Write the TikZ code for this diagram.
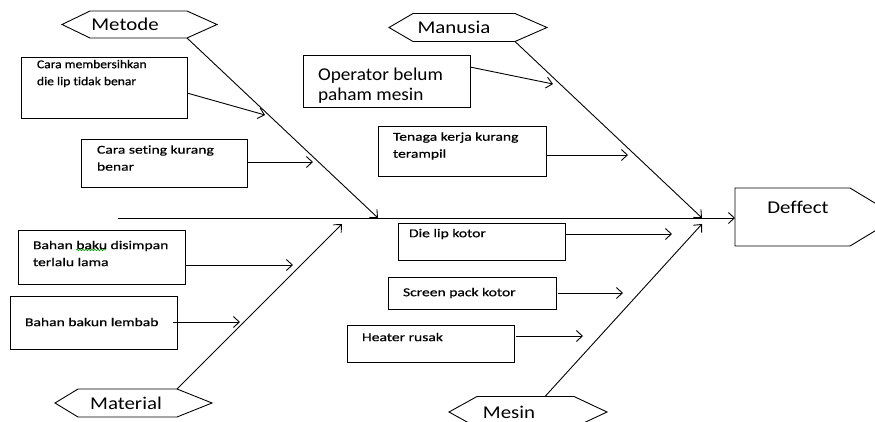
\documentclass[tikz,border=0pt]{standalone}
\usepackage{fontspec}
\setmainfont{Carlito}[Ligatures=NoCommon]
\newfontfamily\smallf{Carlito}[FakeStretch=1.30,FakeBold=0.6,Ligatures=NoCommon]
\newfontfamily\smallnarrowf{Carlito}[FakeStretch=1.13,FakeBold=0.6,Ligatures=NoCommon]
\newfontfamily\catf{Carlito}[FakeStretch=1.16,Ligatures=NoCommon]
\newfontfamily\opf{Carlito}[FakeStretch=1.07,Ligatures=NoCommon]
\usetikzlibrary{arrows.meta,decorations.pathmorphing}
\newcommand\fishhex[6]{\draw ([shift={(#2,0)}]#1.center) -- ([shift={(#3,-#6)}]#1.center) -- ([shift={(#4,-#6)}]#1.center) -- ([shift={(#5,0)}]#1.center) -- ([shift={(#4,#6)}]#1.center) -- ([shift={(#3,#6)}]#1.center) -- cycle;}
\begin{document}
\begin{tikzpicture}[x=1pt,y=-1pt,
  line width=0.9pt,
  every node/.style={inner sep=0pt, outer sep=0pt},
  box/.style={draw, rectangle, anchor=north west, line width=0.9pt},
  txt/.style={anchor=west, align=left, font=\smallf\fontsize{12}{17}\selectfont},
  cat/.style={font=\catf\fontsize{18}{20}\selectfont},
  arr/.style={-{Straight Barb[length=6pt,width=11pt]}, line width=0.9pt},
  squig/.style={draw=green!60!black, line width=0.6pt, decorate, decoration={snake, amplitude=0.8pt, segment length=3pt}}
]
\clip (0,0) rectangle (875,421);
\fill[white] (0,0) rectangle (875,421);

% spine
\coordinate (spL) at (118,218);
\coordinate (defL) at (735,218);
\draw[arr] (spL) -- (defL);

% effect
\draw (735,188) -- (850,188) -- (898,217) -- (850,246) -- (735,246) -- cycle;
\node[cat] (def) at (798,207) {Deffect};

% categories
\node[cat] (mt) at (125,24.5) {Metode};
\fishhex{mt}{-63}{-35}{62}{92}{13.5}
\coordinate (mtB) at ([shift={(62,13.5)}]mt.center);

\node[cat] (mn) at (454,27.5) {Manusia};
\fishhex{mn}{-65}{-41}{61}{93}{14}
\coordinate (mnB) at ([shift={(61,14)}]mn.center);

\node[cat] (ma) at (126,403) {Material};
\fishhex{ma}{-71}{-48}{51}{86}{14}
\coordinate (maB) at ([shift={(51,-14)}]ma.center);

\node[cat] (me) at (509,412) {Mesin};
\fishhex{me}{-60}{-32}{65}{98}{15.5}
\coordinate (meB) at ([shift={(36,-15.5)}]me.center);

% bone tips
\coordinate (tMt) at (378,218);
\coordinate (tMn) at (702,218);
\coordinate (tMa) at (342,224);
\coordinate (tMe) at (702,224);
\draw[arr] (mtB) -- (tMt);
\draw[arr] (mnB) -- (tMn);
\draw[arr] (maB) -- (tMa);
\draw[arr] (meB) -- (tMe);

% cause boxes
\node[box, minimum width=166pt, minimum height=61pt] (b1) at (21,57) {};
\node[txt, font=\smallnarrowf\fontsize{12}{17}\selectfont] (t1) at (37,73.5) {Cara membersihkan\\die lip tidak benar};
\node[box, minimum width=166pt, minimum height=48pt] (b2) at (81,139) {};
\node[txt] (t2) at (97,158) {Cara seting kurang\\benar};
\node[box, minimum width=167pt, minimum height=54pt] (b3) at (18,230) {};
\node[txt] (t3) at (33,253.5) {Bahan baku disimpan\\terlalu lama};
\node[box, minimum width=167pt, minimum height=53pt] (b4) at (10,296) {};
\node[txt] (t4) at (25,322) {Bahan bakun lembab};
\node[box, minimum width=167pt, minimum height=52pt] (b5) at (303,55) {};
\node[anchor=west, align=left, font=\opf\fontsize{18}{20}\selectfont] (t5) at (318,86) {Operator belum\\paham mesin};
\node[box, minimum width=168pt, minimum height=50pt] (b6) at (378,126) {};
\node[txt] (t6) at (393,146) {Tenaga kerja kurang\\terampil};
\node[box, minimum width=167pt, minimum height=37pt] (b7) at (398,223) {};
\node[txt] (t7) at (409,234) {Die lip kotor};
\node[box, minimum width=168pt, minimum height=32pt] (b8) at (388,277) {};
\node[txt] (t8) at (403,293) {Screen pack kotor};
\node[box, minimum width=167pt, minimum height=37pt] (b9) at (347,325) {};
\node[txt] (t9) at (362,337) {Heater rusak};

% spell-check squiggle under "baku"
\draw[squig] (76,250) -- (106,250);

% cause arrows
\coordinate (a1) at (265,115);
\coordinate (a2) at (313,162);
\coordinate (a3) at (293,265);
\coordinate (a4) at (240,322);
\coordinate (a5) at (553,84);
\coordinate (a6) at (628,155);
\coordinate (a7) at (672,234);
\coordinate (a8) at (623,293);
\coordinate (a9) at (583,336);
\draw[arr] ([yshift=-5.5pt]b1.east) -- (a1);
\draw[arr] (b2.east |- a2) -- (a2);
\draw[arr] (b3.east |- a3) -- (a3);
\draw[arr] ([xshift=-4pt]b4.east |- a4) -- (a4);
\draw[arr] ([yshift=14pt]b5.east) -- (a5);
\draw[arr] (b6.east |- a6) -- (a6);
\draw[arr] (b7.east |- a7) -- (a7);
\draw[arr] ([xshift=2pt]b8.east |- a8) -- (a8);
\draw[arr] ([xshift=2pt]b9.east |- a9) -- (a9);
\end{tikzpicture}
\end{document}
